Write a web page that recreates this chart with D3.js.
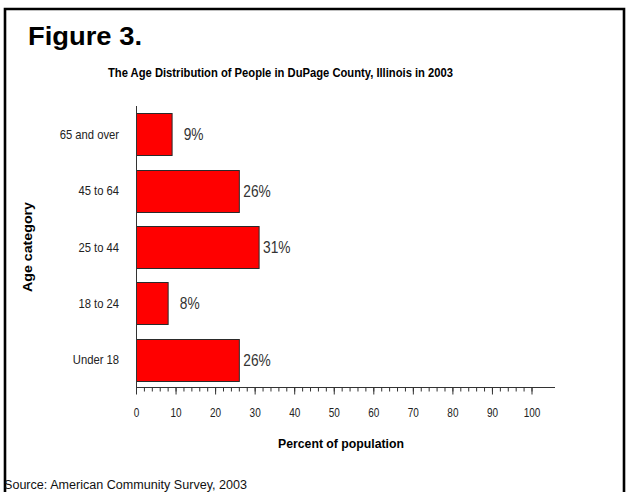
<!DOCTYPE html>
<html>
<head>
<meta charset="utf-8">
<script src="https://cdn.jsdelivr.net/npm/d3@7"></script>
<style>
    body { margin: 0; background: #fff; }
    svg { display: block; }
</style>
</head>
<body>
<div id="chart_div"></div>
<script>
const categories = ["65 and over", "45 to 64", "25 to 44", "18 to 24", "Under 18"];
const values = [9, 26, 31, 8, 26];
const majorTicks = [0, 10, 20, 30, 40, 50, 60, 70, 80, 90, 100];
const minorTicks = d3.range(0, 101, 2);

const figureLabel = "Figure 3.";
const title = "The Age Distribution of People in DuPage County, Illinois in 2003";
const xTitle = "Percent of population";
const yTitle = "Age category";
const source = "Source: American Community Survey, 2003";

const width = 627;
const height = 492;
const font = "'Liberation Sans', Arial, Helvetica, sans-serif";

const margin = {
    left: 136.5,
    top: 106,
    bottom: 388,
};

const svg = d3.select("#chart_div")
    .append("svg")
    .attr("width", width)
    .attr("height", height)
    .attr("font-family", font);

// no Arial Narrow here, so squeeze Liberation Sans horizontally
const narrowAt = (x, y, k) => `translate(${x},${y}) scale(${k},1)`;

// Frame (left, top, right only)
svg.append("path")
    .attr("d", `M5,${height} V9 H624 V${height}`)
    .attr("fill", "none")
    .attr("stroke", "#000")
    .attr("stroke-width", 2.6);

// Scales

const x = d3.scaleLinear()
    .domain([0, 100])
    .range([margin.left, 532]);

const y = d3.scaleBand()
    .domain(categories)
    .range([margin.top, margin.bottom])
    .paddingInner(0.257)
    .paddingOuter(0.13);

// Headings

svg.append("text")
    .attr("x", 28)
    .attr("y", 45)
    .attr("font-weight", "bold")
    .attr("font-size", 26)
    .attr("textLength", 114)
    .attr("lengthAdjust", "spacingAndGlyphs")
    .attr("fill", "#000")
    .text(figureLabel);

svg.append("text")
    .attr("x", 108)
    .attr("y", 76.5)
    .attr("font-weight", "bold")
    .attr("font-size", 13)
    .attr("textLength", 345)
    .attr("lengthAdjust", "spacingAndGlyphs")
    .attr("fill", "#000")
    .text(title);

// Bars

const data = categories.map((c, i) => ({ category: c, value: values[i] }));

svg.append("g")
    .selectAll("rect")
    .data(data)
    .enter()
    .append("rect")
    .attr("x", x(0))
    .attr("y", d => Math.round(y(d.category)) + 0.5)
    .attr("width", d => x(d.value) - x(0))
    .attr("height", Math.round(y.bandwidth()))
    .attr("fill", "#ff0000")
    .attr("stroke", "#2a2a2a")
    .attr("stroke-width", 1);

// value labels, right aligned in a fixed field after the bar end
svg.append("g")
    .selectAll("text")
    .data(data)
    .enter()
    .append("text")
    .attr("transform", d => narrowAt(x(d.value) + 31.5, y(d.category) + y.bandwidth() / 2 + 6, 0.86))
    .attr("text-anchor", "end")
    .attr("font-size", 16)
    .attr("fill", "#333")
    .text(d => d.value + "%");

// Category labels
svg.append("g")
    .selectAll("text")
    .data(categories)
    .enter()
    .append("text")
    .attr("transform", d => narrowAt(119, y(d) + y.bandwidth() / 2 + 4.5, 0.9))
    .attr("text-anchor", "end")
    .attr("font-size", 12.5)
    .attr("fill", "#222")
    .text(d => d);

// Axes

svg.append("line")
    .attr("x1", margin.left)
    .attr("x2", margin.left)
    .attr("y1", margin.top)
    .attr("y2", margin.bottom)
    .attr("stroke", "#333");

svg.append("line")
    .attr("x1", margin.left)
    .attr("x2", 555)
    .attr("y1", margin.bottom - 0.5)
    .attr("y2", margin.bottom - 0.5)
    .attr("stroke", "#333");

const minorAxis = svg.append("g")
    .attr("transform", `translate(0, ${margin.bottom - 0.5})`)
    .call(d3.axisBottom(x).tickValues(minorTicks).tickSize(4).tickFormat("").offset(0));

const majorAxis = svg.append("g")
    .attr("transform", `translate(0, ${margin.bottom - 0.5})`)
    .call(d3.axisBottom(x).tickValues(majorTicks).tickSize(7).tickPadding(14).offset(0));

[minorAxis, majorAxis].forEach(g => {
    g.select(".domain").remove();
    g.selectAll("line").attr("stroke", "#333");
});

majorAxis.selectAll("text")
    .attr("font-family", font)
    .attr("font-size", 12.5)
    .attr("fill", "#222")
    .attr("transform", "scale(0.8,1)");

svg.append("text")
    .attr("x", 341)
    .attr("y", 447.5)
    .attr("text-anchor", "middle")
    .attr("font-weight", "bold")
    .attr("font-size", 13)
    .attr("textLength", 126)
    .attr("lengthAdjust", "spacingAndGlyphs")
    .attr("fill", "#000")
    .text(xTitle);

svg.append("text")
    .attr("transform", `translate(32, ${(margin.top + margin.bottom) / 2}) rotate(-90)`)
    .attr("text-anchor", "middle")
    .attr("font-weight", "bold")
    .attr("font-size", 13.5)
    .attr("textLength", 90)
    .attr("lengthAdjust", "spacingAndGlyphs")
    .attr("fill", "#000")
    .text(yTitle);

// Source note
svg.append("text")
    .attr("x", 4)
    .attr("y", 489)
    .attr("font-size", 12)
    .attr("textLength", 243)
    .attr("lengthAdjust", "spacingAndGlyphs")
    .attr("fill", "#111")
    .text(source);
</script>
</body>
</html>
